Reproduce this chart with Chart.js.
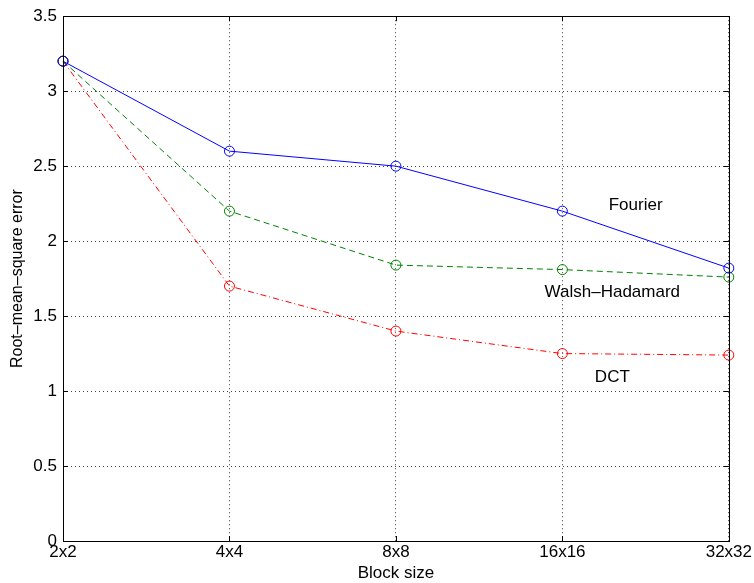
<!DOCTYPE html>
<html>
<head>
<meta charset="utf-8">
<script src="https://cdn.jsdelivr.net/npm/chart.js@4/dist/chart.umd.min.js"></script>
<style>
  html, body { margin: 0; padding: 0; background: #fff; }
  #wrap { width: 754px; height: 583px; }
</style>
</head>
<body>
<div id="wrap"><canvas id="chart"></canvas></div>
<script>
// block sizes along the x axis
var blockSizes = ['2x2', '4x4', '8x8', '16x16', '32x32'];

// RMS error per transform
var fourier = [3.2, 2.6, 2.5, 2.2, 1.82];
var walsh = [3.2, 2.2, 1.84, 1.81, 1.76];
var dct = [3.2, 1.7, 1.4, 1.25, 1.24];

var yTicks = [0, 0.5, 1, 1.5, 2, 2.5, 3, 3.5];

// text labels placed in data units: [text, x index, y value]
var curveLabels = [
    ['Fourier', 3.44, 2.24],
    ['Walsh\u2013Hadamard', 3.30, 1.66],
    ['DCT', 3.30, 1.09]
];

var FONT = '"Liberation Sans", Arial, Helvetica, sans-serif';
var FSIZE = 17;

function series(label, data, color, dash) {
    return {
        label: label,
        data: data,
        borderColor: color,
        backgroundColor: 'rgba(0,0,0,0)',
        borderWidth: 1,
        borderDash: dash,
        pointStyle: 'circle',
        pointRadius: 5,
        pointHoverRadius: 5,
        pointBorderWidth: 1,
        pointBorderColor: color,
        pointBackgroundColor: 'rgba(0,0,0,0)',
        tension: 0
    };
}

var framePlugin = {
    id: 'frame',
    afterDraw: function (chart) {
        var ctx = chart.ctx;
        var a = chart.chartArea;
        var xs = chart.scales.x;
        var ys = chart.scales.y;
        ctx.save();
        ctx.strokeStyle = '#000';
        ctx.lineWidth = 1;
        ctx.setLineDash([]);
        ctx.beginPath();
        // inner tick marks
        var len = 5;
        ys.ticks.forEach(function (t, i) {
            var y = Math.round(ys.getPixelForTick(i)) + 0.5;
            ctx.moveTo(a.left, y); ctx.lineTo(a.left + len, y);
            ctx.moveTo(a.right, y); ctx.lineTo(a.right - len, y);
        });
        blockSizes.forEach(function (b, i) {
            var x = Math.round(xs.getPixelForValue(i)) + 0.5;
            ctx.moveTo(x, a.bottom); ctx.lineTo(x, a.bottom - len);
            ctx.moveTo(x, a.top); ctx.lineTo(x, a.top + len);
        });
        ctx.stroke();
        // full box
        ctx.strokeRect(Math.round(a.left) + 0.5, Math.round(a.top) + 0.5,
            Math.round(a.right - a.left), Math.round(a.bottom - a.top));
        // curve labels
        ctx.fillStyle = '#000';
        ctx.font = FSIZE + 'px ' + FONT;
        ctx.textAlign = 'center';
        ctx.textBaseline = 'middle';
        curveLabels.forEach(function (l) {
            ctx.fillText(l[0], xs.getPixelForValue(l[1]), ys.getPixelForValue(l[2]));
        });
        ctx.restore();
    }
};

new Chart(document.getElementById('chart'), {
    type: 'line',
    data: {
        labels: blockSizes,
        datasets: [
            series('Fourier', fourier, '#0000ff', []),
            series('Walsh-Hadamard', walsh, '#008000', [6, 4]),
            series('DCT', dct, '#ff0000', [6, 3, 1, 3])
        ]
    },
    options: {
        responsive: true,
        maintainAspectRatio: false,
        animation: false,
        layout: { padding: { top: 15, right: 25, left: 0, bottom: 0 } },
        plugins: {
            legend: { display: false },
            tooltip: { enabled: false }
        },
        scales: {
            x: {
                type: 'category',
                offset: false,
                afterFit: function (s) { s.height = 42; },
                grid: {
                    color: '#444',
                    lineWidth: 1,
                    drawTicks: false
                },
                border: { display: false, dash: [1, 3] },
                ticks: {
                    color: '#000',
                    font: { family: FONT, size: FSIZE, lineHeight: 1.1 },
                    padding: 2,
                    maxRotation: 0
                },
                title: {
                    display: true,
                    text: 'Block size',
                    color: '#000',
                    font: { family: FONT, size: FSIZE, lineHeight: 1.1 },
                    padding: { top: 0, bottom: 0 }
                }
            },
            y: {
                min: 0,
                max: 3.5,
                afterFit: function (s) { s.width = 63; },
                afterBuildTicks: function (s) {
                    s.ticks = yTicks.map(function (v) { return { value: v }; });
                },
                grid: {
                    color: '#444',
                    lineWidth: 1,
                    drawTicks: false
                },
                border: { display: false, dash: [1, 3] },
                ticks: {
                    color: '#000',
                    font: { family: FONT, size: FSIZE },
                    padding: 6,
                    callback: function (v) { return String(v); }
                },
                title: {
                    display: true,
                    text: 'Root\u2013mean\u2013square error',
                    color: '#000',
                    font: { family: FONT, size: 16 },
                    padding: { top: 8, bottom: 0 }
                }
            }
        }
    },
    plugins: [framePlugin]
});
</script>
</body>
</html>
